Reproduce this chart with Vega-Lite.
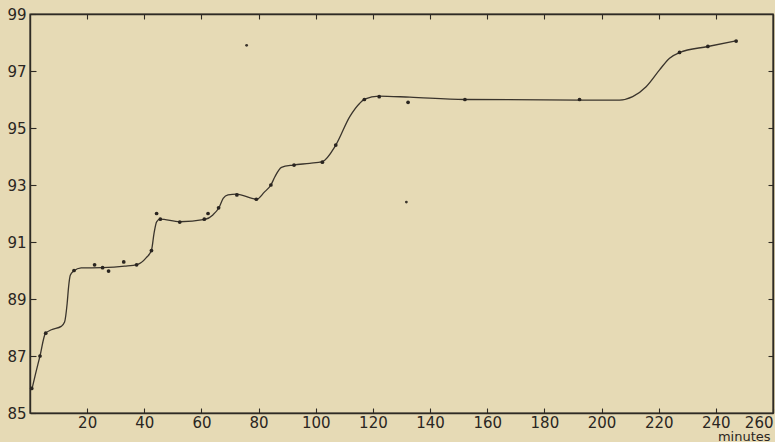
{
  "$schema": "https://vega.github.io/schema/vega-lite/v6.json",
  "width": 743,
  "height": 399,
  "autosize": "none",
  "padding": {"left": 30, "top": 14, "right": 2, "bottom": 29},
  "background": "#e6dab5",
  "config": {
    "view": {"stroke": "#2e2a24", "strokeWidth": 1.4},
    "axis": {
      "labelFont": "DejaVu Sans",
      "labelFontSize": 15,
      "labelColor": "#2a2622",
      "domainColor": "#2e2a24",
      "domainWidth": 1.4,
      "tickColor": "#2e2a24",
      "tickWidth": 1.1,
      "grid": false
    }
  },
  "datasets": {
    "curve": [
      {"min": 0.7, "val": 85.85}, {"min": 2.0, "val": 86.4}, {"min": 3.5, "val": 87.0},
      {"min": 5.35, "val": 87.78}, {"min": 7.5, "val": 87.92}, {"min": 10.9, "val": 88.04},
      {"min": 12.1, "val": 88.19}, {"min": 13.0, "val": 88.84}, {"min": 13.5, "val": 89.42},
      {"min": 14.1, "val": 89.83}, {"min": 15.3, "val": 89.98}, {"min": 17.9, "val": 90.09},
      {"min": 25.2, "val": 90.1}, {"min": 33.1, "val": 90.15}, {"min": 37.5, "val": 90.21},
      {"min": 40.7, "val": 90.45}, {"min": 42.5, "val": 90.71}, {"min": 43.4, "val": 91.3},
      {"min": 44.3, "val": 91.71}, {"min": 45.5, "val": 91.8}, {"min": 52.4, "val": 91.71},
      {"min": 61.2, "val": 91.79}, {"min": 64.0, "val": 91.95}, {"min": 66.1, "val": 92.2},
      {"min": 67.6, "val": 92.53}, {"min": 69.3, "val": 92.65}, {"min": 72.3, "val": 92.68},
      {"min": 79.3, "val": 92.5}, {"min": 82.0, "val": 92.75}, {"min": 84.3, "val": 93.0},
      {"min": 85.7, "val": 93.29}, {"min": 88.0, "val": 93.62}, {"min": 92.1, "val": 93.7},
      {"min": 97.9, "val": 93.76}, {"min": 102.3, "val": 93.82}, {"min": 107.0, "val": 94.4},
      {"min": 111.9, "val": 95.4}, {"min": 115.4, "val": 95.87}, {"min": 117.1, "val": 96.01},
      {"min": 122.1, "val": 96.12}, {"min": 132.9, "val": 96.08}, {"min": 152.1, "val": 96.0},
      {"min": 192.3, "val": 95.98}, {"min": 206.3, "val": 95.98}, {"min": 210.9, "val": 96.1},
      {"min": 215.6, "val": 96.45}, {"min": 220.3, "val": 97.04}, {"min": 223.8, "val": 97.45},
      {"min": 227.3, "val": 97.65}, {"min": 237.2, "val": 97.86}, {"min": 247.1, "val": 98.06}
    ],
    "obs": [
      {"min": 0.6, "val": 85.86}, {"min": 3.5, "val": 87.0}, {"min": 5.5, "val": 87.8},
      {"min": 15.4, "val": 90.0}, {"min": 22.6, "val": 90.2}, {"min": 25.4, "val": 90.1},
      {"min": 27.5, "val": 89.98}, {"min": 32.8, "val": 90.3}, {"min": 37.3, "val": 90.2},
      {"min": 42.5, "val": 90.7}, {"min": 44.3, "val": 92.0}, {"min": 45.6, "val": 91.8},
      {"min": 52.4, "val": 91.7}, {"min": 61.0, "val": 91.8}, {"min": 62.3, "val": 92.0},
      {"min": 66.0, "val": 92.2}, {"min": 72.4, "val": 92.65}, {"min": 79.2, "val": 92.5},
      {"min": 84.3, "val": 93.0}, {"min": 92.4, "val": 93.7}, {"min": 102.3, "val": 93.8},
      {"min": 107.0, "val": 94.4}, {"min": 117.0, "val": 96.0}, {"min": 122.2, "val": 96.1},
      {"min": 132.3, "val": 95.9}, {"min": 152.2, "val": 96.0}, {"min": 192.3, "val": 96.0},
      {"min": 227.3, "val": 97.65}, {"min": 237.2, "val": 97.86}, {"min": 247.1, "val": 98.05}
    ],
    "stray": [
      {"min": 75.8, "val": 97.9}, {"min": 131.7, "val": 92.4}
    ]
  },
  "layer": [
    {
      "data": {"name": "curve"},
      "mark": {"type": "line", "interpolate": "monotone", "color": "#3a342c", "strokeWidth": 1.3},
      "encoding": {
        "x": {
          "field": "min", "type": "quantitative",
          "scale": {"domain": [0, 260], "nice": false, "zero": false},
          "axis": {"orient": "bottom", "title": "minutes", "values": [20, 40, 60, 80, 100, 120, 140, 160, 180, 200, 220, 240, 260],
                   "tickSize": -5, "labelPadding": 7, "labelFlush": true, "labelFlushOffset": 0,
                   "titleFont": "DejaVu Sans", "titleFontSize": 13, "titleFontWeight": "normal", "titleColor": "#2a2622",
                   "titleAnchor": "end", "titleAlign": "right", "titleBaseline": "alphabetic", "titleX": 740, "titleY": 27.5}
        },
        "y": {
          "field": "val", "type": "quantitative",
          "scale": {"domain": [85, 99], "nice": false, "zero": false},
          "axis": {"orient": "left", "title": null, "values": [85, 87, 89, 91, 93, 95, 97, 99],
                   "tickSize": -6, "labelPadding": 10, "labelFlush": false}
        }
      }
    },
    {
      "data": {"name": "obs"},
      "mark": {"type": "circle", "size": 14, "color": "#2a2520", "opacity": 1},
      "encoding": {
        "x": {"field": "min", "type": "quantitative",
              "axis": {"orient": "top", "title": null, "labels": false, "values": [20, 40, 60, 80, 100, 120, 140, 160, 180, 200, 220, 240], "tickSize": -5}},
        "y": {"field": "val", "type": "quantitative",
              "axis": {"orient": "right", "title": null, "labels": false, "values": [87, 89, 91, 93, 95, 97], "tickSize": -5}}
      }
    },
    {
      "data": {"name": "stray"},
      "mark": {"type": "circle", "size": 8, "color": "#3a342c", "opacity": 1},
      "encoding": {
        "x": {"field": "min", "type": "quantitative", "axis": null},
        "y": {"field": "val", "type": "quantitative", "axis": null}
      }
    }
  ],
  "resolve": {"axis": {"x": "independent", "y": "independent"}}
}
